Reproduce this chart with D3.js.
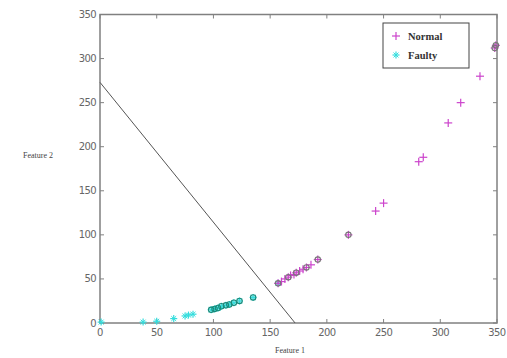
<!DOCTYPE html>
<html>
<head>
<style>
  body { margin: 0; background: #fff; }
  svg text { font-family: "DejaVu Sans", sans-serif; }
</style>
</head>
<body>
<div id="chart"></div>
<script src="https://cdn.jsdelivr.net/npm/d3@7"></script>
<script>
// data
const normalX = [157, 160, 163, 166, 168, 171, 173, 176, 179, 182, 186, 192, 219, 243, 250, 281, 285, 307, 318, 335, 348, 349];
const normalY = [45, 47, 50, 52, 54, 55, 57, 59, 61, 63, 66, 72, 100, 127, 136, 183, 188, 227, 250, 280, 312, 315];
const faultyX = [1, 38, 50, 65, 75, 78, 82, 98, 101, 104, 107, 111, 114, 118, 123, 135, 157];
const faultyY = [1, 1, 2, 5, 8, 9, 10, 15, 16, 17, 19, 20, 21, 23, 25, 29, 45];
// points that also carry a circle marker
const normalCircled = [0, 3, 6, 9, 11, 12, 20, 21];
const faultyCircled = [7, 8, 9, 10, 11, 12, 13, 14, 15];
const boundary = [[0, 273], [172, 0]];
const ticks = [0, 50, 100, 150, 200, 250, 300, 350];

const W = 507, H = 358;
const svg = d3.select("#chart").append("svg").attr("width", W).attr("height", H);

const x = d3.scaleLinear().domain([0, 350]).range([100, 497]);
const y = d3.scaleLinear().domain([0, 350]).range([323, 14.5]);

const axisColor = "#808080";

// frame
svg.append("rect")
  .attr("x", x(0)).attr("y", y(350))
  .attr("width", x(350) - x(0)).attr("height", y(0) - y(350))
  .attr("fill", "#fff").attr("stroke", axisColor).attr("stroke-width", 1.5);

// inward ticks on all four sides
const tickLen = 4;
ticks.forEach(t => {
  svg.append("line").attr("x1", x(t)).attr("x2", x(t)).attr("y1", y(0)).attr("y2", y(0) - tickLen).attr("stroke", axisColor);
  svg.append("line").attr("x1", x(t)).attr("x2", x(t)).attr("y1", y(350)).attr("y2", y(350) + tickLen).attr("stroke", axisColor);
  svg.append("line").attr("y1", y(t)).attr("y2", y(t)).attr("x1", x(0)).attr("x2", x(0) + tickLen).attr("stroke", axisColor);
  svg.append("line").attr("y1", y(t)).attr("y2", y(t)).attr("x1", x(350)).attr("x2", x(350) - tickLen).attr("stroke", axisColor);
});

svg.append("g").selectAll("text").data(ticks).join("text")
  .attr("x", d => x(d)).attr("y", y(0) + 13)
  .attr("text-anchor", "middle").attr("font-size", 10).attr("fill", "#666")
  .attr("letter-spacing", -0.6)
  .text(d => d);

svg.append("g").selectAll("text").data(ticks).join("text")
  .attr("x", x(0) - 4).attr("y", d => y(d) + 3.5)
  .attr("text-anchor", "end").attr("font-size", 10).attr("fill", "#666")
  .attr("letter-spacing", -0.6)
  .text(d => d);

// axis labels
svg.append("text").attr("x", 290).attr("y", 353)
  .attr("text-anchor", "middle").attr("font-size", 8)
  .style("font-family", "'Liberation Serif', serif").attr("fill", "#444")
  .text("Feature 1");
svg.append("text").attr("x", 38).attr("y", 158)
  .attr("text-anchor", "middle").attr("font-size", 8)
  .style("font-family", "'Liberation Serif', serif").attr("fill", "#444")
  .text("Feature 2");

// decision line
svg.append("line")
  .attr("x1", x(boundary[0][0])).attr("y1", y(boundary[0][1]))
  .attr("x2", x(boundary[1][0])).attr("y2", y(boundary[1][1]))
  .attr("stroke", "#555").attr("stroke-width", 1);

const magenta = "#cc44cc", cyan = "#33dddd";

function plus(g, cx, cy, s, col) {
  g.append("line").attr("x1", cx - s).attr("x2", cx + s).attr("y1", cy).attr("y2", cy).attr("stroke", col).attr("stroke-width", 1.2);
  g.append("line").attr("x1", cx).attr("x2", cx).attr("y1", cy - s).attr("y2", cy + s).attr("stroke", col).attr("stroke-width", 1.2);
}
function star(g, cx, cy, s, col) {
  plus(g, cx, cy, s, col);
  const d = s * 0.7;
  g.append("line").attr("x1", cx - d).attr("x2", cx + d).attr("y1", cy - d).attr("y2", cy + d).attr("stroke", col).attr("stroke-width", 1);
  g.append("line").attr("x1", cx - d).attr("x2", cx + d).attr("y1", cy + d).attr("y2", cy - d).attr("stroke", col).attr("stroke-width", 1);
}

const pts = svg.append("g");
faultyX.forEach((v, i) => star(pts, x(v), y(faultyY[i]), 3.5, cyan));
faultyCircled.forEach(i => pts.append("circle").attr("cx", x(faultyX[i])).attr("cy", y(faultyY[i])).attr("r", 2.7)
  .attr("fill", "none").attr("stroke", "#1a8a7a").attr("stroke-width", 1.1));

normalX.forEach((v, i) => plus(pts, x(v), y(normalY[i]), 4, magenta));
normalCircled.forEach(i => pts.append("circle").attr("cx", x(normalX[i])).attr("cy", y(normalY[i])).attr("r", 2.7)
  .attr("fill", "none").attr("stroke", "#777").attr("stroke-width", 1.1));

// legend
const lg = svg.append("g");
lg.append("rect").attr("x", 383).attr("y", 23).attr("width", 86).attr("height", 45)
  .attr("fill", "#fff").attr("stroke", "#444").attr("stroke-width", 1);
plus(lg, 396, 36, 4, magenta);
star(lg, 396, 55, 3.5, cyan);
lg.append("text").attr("x", 408).attr("y", 40).attr("font-size", 10.5).attr("font-weight", "bold")
  .style("font-family", "'Liberation Serif', serif").attr("fill", "#333").text("Normal");
lg.append("text").attr("x", 408).attr("y", 59).attr("font-size", 10.5).attr("font-weight", "bold")
  .style("font-family", "'Liberation Serif', serif").attr("fill", "#333").text("Faulty");
</script>
</body>
</html>
